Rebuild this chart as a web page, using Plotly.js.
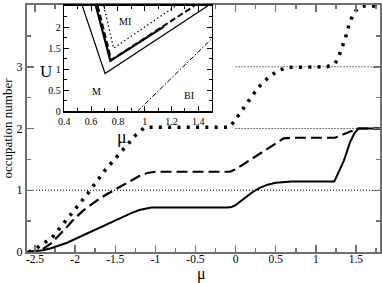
<!DOCTYPE html>
<html><head><meta charset="utf-8">
<script src="https://cdn.plot.ly/plotly-3.0.1.min.js"></script>
<style>html,body{margin:0;padding:0;background:#fff}#chart{width:382px;height:283px}</style>
</head><body><div id="chart"></div>
<script>
// ---- main panel data ----
const solidMu = [-2.6,-2.5,-2.4,-2.3,-2.2,-2.1,-2.0,-1.9,-1.8,-1.7,-1.6,-1.5,-1.4,-1.3,-1.2,-1.1,-1.05,-0.1,-0.05,0,0.1,0.2,0.3,0.4,0.5,0.6,0.7,1.23,1.28,1.35,1.43,1.48,1.53,1.8];
const solidN  = [0,0.01,0.03,0.06,0.10,0.15,0.21,0.27,0.33,0.39,0.45,0.52,0.58,0.63,0.68,0.71,0.72,0.72,0.73,0.76,0.86,0.96,1.04,1.09,1.12,1.135,1.14,1.14,1.28,1.48,1.79,1.92,2.0,2.0];

const dashMu = [-2.6,-2.5,-2.4,-2.3,-2.2,-2.1,-2.0,-1.9,-1.8,-1.7,-1.6,-1.5,-1.4,-1.3,-1.2,-1.1,-1.0,-0.07,0,0.12,0.25,0.35,0.49,0.6,0.7,1.24,1.43,1.53,1.8];
const dashN  = [0,0.01,0.05,0.14,0.27,0.41,0.55,0.67,0.77,0.86,0.94,1.01,1.08,1.16,1.23,1.28,1.30,1.30,1.34,1.44,1.55,1.63,1.76,1.84,1.85,1.85,1.95,2.0,2.0];

const dotMu = [-2.58,-2.49,-2.29,-2.14,-1.99,-1.84,-1.63,-1.40,-1.31,-1.24,-1.13,-0.07,0.0,0.075,0.145,0.21,0.28,0.37,0.45,0.55,0.67,1.14,1.24,1.29,1.33,1.37,1.40,1.44,1.49,1.58,1.8];
const dotN  = [0,0.055,0.23,0.47,0.70,0.95,1.32,1.66,1.79,1.90,2.02,2.02,2.15,2.29,2.40,2.53,2.66,2.78,2.87,2.95,2.99,3.0,3.05,3.18,3.32,3.47,3.62,3.77,3.90,3.985,3.985];

// horizontal guide levels
const guide1Mu = [-2.6, 1.8]; const guide1N = [1, 1];
const guide2Mu = [0, 1.8];    const guide2N = [2, 2];
const guide3Mu = [0, 1.8];    const guide3N = [3, 3];

const xTickVals = [-2.5,-2,-1.5,-1,-0.5,0,0.5,1,1.5];
const xTickText = ["-2.5","-2","-1.5","-1","-0.5","0","0.5","1","1.5"];
const yTickVals = [0,1,2,3,4];
const yTickText = ["0","1","2","3","4"];

// ---- inset data (phase diagram) ----
const thinMu = [0.535, 0.704, 1.47];
const thinU  = [2.5, 0.9, 2.5];
const thickMu = [0.636, 0.744, 1.144];
const thickU  = [2.5, 1.2, 2.01];
const insetDashMu = [0.65, 0.75, 1.37];
const insetDashU  = [2.5, 1.22, 2.5];
const insetDotMu = [0.695, 0.768, 1.23];
const insetDotU  = [2.5, 1.5, 2.5];
const dashDotMu = [0.945, 1.5];
const dashDotU  = [0.0, 1.72];
const insetXTickVals = [0.4,0.6,0.8,1.0,1.2,1.4];
const insetXTickText = ["0.4","0.6","0.8","1","1.2","1.4"];
const insetYTickVals = [0,0.5,1,1.5,2];
const insetYTickText = ["0","0.5","1","1.5","2"];
const regionLabels = ["MI","M","BI"];
const regionMu = [0.85, 0.64, 1.33];
const regionU  = [2.13, 0.48, 0.37];

const serif = "Liberation Serif, Times New Roman, serif";
const frame = "#707070";

const traces = [
  {x: guide1Mu, y: guide1N, mode:"lines", line:{color:"#000", width:1, dash:"1px,2px"}, hoverinfo:"skip"},
  {x: guide2Mu, y: guide2N, mode:"lines", line:{color:"#000", width:1, dash:"1px,2px"}, hoverinfo:"skip"},
  {x: guide3Mu, y: guide3N, mode:"lines", line:{color:"#000", width:1, dash:"1px,2px"}, hoverinfo:"skip"},
  {x: solidMu, y: solidN, mode:"lines", line:{color:"#000", width:2}},
  {x: dashMu, y: dashN, mode:"lines", line:{color:"#000", width:2.2, dash:"11px,5px"}},
  {x: dotMu, y: dotN, mode:"lines", line:{color:"#000", width:3.5, dash:"3px,6.3px"}},
  // inset
  {x: insetDashMu, y: insetDashU, xaxis:"x2", yaxis:"y2", mode:"lines", line:{color:"#000", width:2, dash:"6px,3px"}},
  {x: thinMu, y: thinU, xaxis:"x2", yaxis:"y2", mode:"lines", line:{color:"#000", width:1.2}},
  {x: thickMu, y: thickU, xaxis:"x2", yaxis:"y2", mode:"lines", line:{color:"#000", width:2.2}},
  {x: insetDotMu, y: insetDotU, xaxis:"x2", yaxis:"y2", mode:"lines", line:{color:"#000", width:1.2, dash:"1.5px,2.5px"}},
  {x: dashDotMu, y: dashDotU, xaxis:"x2", yaxis:"y2", mode:"lines", line:{color:"#000", width:1, dash:"5px,2px,1.5px,2px"}}
];

const annotations = regionLabels.map((t,i)=>({
  text:t, x: regionMu[i], y: regionU[i], xref:"x2", yref:"y2",
  showarrow:false, font:{family: serif, size:10, color:"#000"}
}));
// axis titles placed as free text (horizontal, as in the reference)
annotations.push({text:"U", xref:"paper", yref:"paper", x:0.031, y:0.777, showarrow:false,
  font:{family: serif, size:17, color:"#000"}});
annotations.push({text:"μ", xref:"paper", yref:"paper", x:0.249, y:0.466, showarrow:false,
  font:{family: serif, size:18, color:"#000"}});
annotations.push({text:"μ", xref:"paper", yref:"paper", x:0.495, y:-0.089, yanchor:"middle", showarrow:false,
  borderpad:0, font:{family: serif, size:16, color:"#000"}});

const layout = {
  width: 382, height: 283,
  margin: {l:27, r:2, t:5, b:31},
  paper_bgcolor: "#fff", plot_bgcolor: "#fff",
  showlegend: false,
  font: {family: serif, color:"#000"},
  xaxis: {
    range: [-2.6, 1.8], tickmode:"array", tickvals: xTickVals, ticktext: xTickText,
    ticks:"inside", ticklen:7, tickwidth:1.5, tickcolor: frame,
    minor: {tickmode:"linear", tick0:0, dtick:0.25, ticks:"inside", ticklen:4, tickwidth:1.5, tickcolor: frame, showgrid:false},
    showline:true, linecolor: frame, linewidth:2, mirror:"ticks",
    showgrid:false, zeroline:false, ticklabelstandoff:-5,
    tickfont:{family: serif, size:11.5, color:"#000"}
  },
  yaxis: {
    range: [0, 4], tickmode:"array", tickvals: yTickVals, ticktext: yTickText,
    ticks:"inside", ticklen:7, tickwidth:1.5, tickcolor: frame,
    minor: {tickmode:"linear", tick0:0, dtick:0.5, ticks:"inside", ticklen:4, tickwidth:1.5, tickcolor: frame, showgrid:false},
    showline:true, linecolor: frame, linewidth:2, mirror:"ticks",
    showgrid:false, zeroline:false,
    tickfont:{family: serif, size:12, color:"#000"},
    title:{text:"occupation number", font:{family: serif, size:13, color:"#000"}, standoff:2}
  },
  xaxis2: {
    domain:[0.1057, 0.523], anchor:"y2", range:[0.4, 1.5],
    tickmode:"array", tickvals: insetXTickVals, ticktext: insetXTickText,
    ticks:"inside", ticklen:5, tickwidth:1, tickcolor:"#000",
    minor: {tickmode:"linear", tick0:0.4, dtick:0.1, ticks:"inside", ticklen:3, tickwidth:1, tickcolor:"#000", showgrid:false},
    showline:true, linecolor:"#000", linewidth:1.5, mirror:"ticks",
    showgrid:false, zeroline:false,
    tickfont:{family: serif, size:10, color:"#000"}
  },
  yaxis2: {
    domain:[0.569, 0.996], anchor:"x2", range:[0, 2.5],
    tickmode:"array", tickvals: insetYTickVals, ticktext: insetYTickText,
    ticks:"inside", ticklen:5, tickwidth:1, tickcolor:"#000",
    minor: {tickmode:"linear", tick0:0, dtick:0.25, ticks:"inside", ticklen:3, tickwidth:1, tickcolor:"#000", showgrid:false},
    showline:true, linecolor:"#000", linewidth:1.5, mirror:"ticks",
    showgrid:false, zeroline:false,
    tickfont:{family: serif, size:10, color:"#000"}
  },
  annotations: annotations
};

Plotly.newPlot("chart", traces, layout, {staticPlot:true, displayModeBar:false});
</script>
</body></html>
